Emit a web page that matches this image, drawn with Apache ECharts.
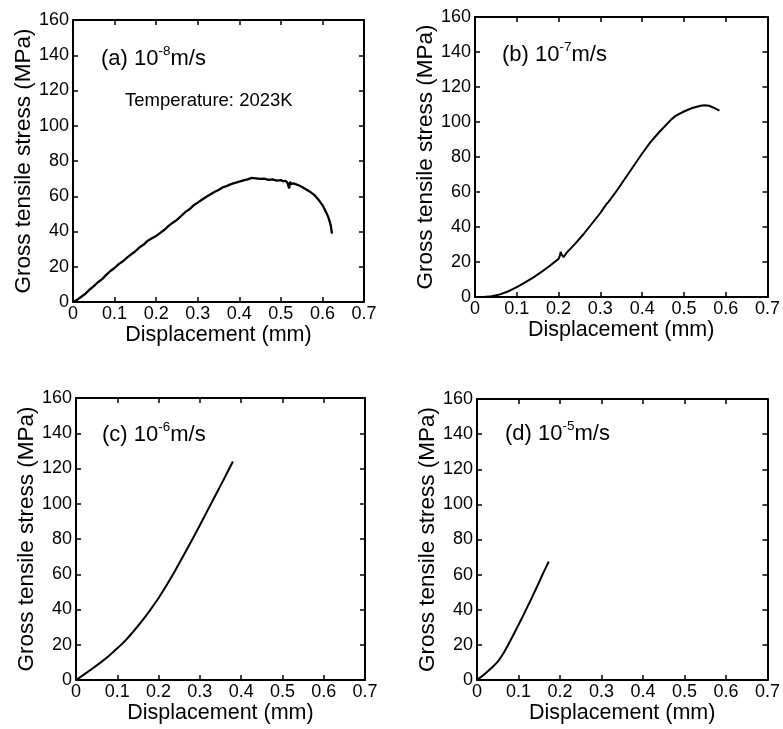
<!DOCTYPE html>
<html>
<head>
<meta charset="utf-8">
<script src="https://cdn.jsdelivr.net/npm/echarts@6/dist/echarts.min.js"></script>
<style>html,body{margin:0;padding:0;background:#fff}#c{width:783px;height:729px}</style>
</head>
<body>
<div id="c"></div>
<script>
// ---- data ----
const xTicks = [0, 0.1, 0.2, 0.3, 0.4, 0.5, 0.6, 0.7];
const yTicks = [0, 20, 40, 60, 80, 100, 120, 140, 160];

// (a) 10^-8 m/s
const aX = [0,0.01,0.02,0.03,0.04,0.05,0.06,0.07,0.08,0.09,0.10,0.11,0.12,0.13,0.14,0.15,0.16,0.17,0.18,0.19,0.20,0.21,0.22,0.23,0.24,0.25,0.26,0.27,0.28,0.29,0.30,0.31,0.32,0.33,0.34,0.35,0.36,0.37,0.38,0.39,0.40,0.41,0.42,0.43,0.44,0.45,0.46,0.47,0.48,0.49,0.50,0.505,0.51,0.515,0.52,0.522,0.525,0.53,0.54,0.55,0.56,0.57,0.58,0.59,0.60,0.605,0.61,0.615,0.62,0.623];
const aY = [0,1.2,3.0,4.8,7.0,9.0,11.2,13.0,15.4,17.6,19.3,21.5,23.1,25.2,27.0,28.8,31.0,32.6,34.8,36.2,37.5,39.2,41.0,43.2,45.0,46.6,48.8,51.0,52.6,54.8,56.4,58.0,59.6,61.0,62.4,63.6,65.0,65.8,66.9,67.6,68.3,69.0,69.6,70.4,70.1,69.8,70.0,69.3,69.6,68.9,69.2,68.5,68.8,68.0,64.5,68.2,66.8,67.3,66.5,65.4,64.0,62.6,60.8,58.2,55.0,52.8,50.4,47.6,43.5,38.8];

// (b) 10^-7 m/s
const bX = [0,0.02,0.04,0.06,0.08,0.10,0.12,0.14,0.16,0.18,0.20,0.203,0.205,0.208,0.212,0.22,0.24,0.26,0.28,0.30,0.31,0.315,0.32,0.34,0.36,0.38,0.40,0.42,0.44,0.46,0.47,0.48,0.50,0.52,0.54,0.55,0.56,0.57,0.585];
const bY = [0,0,0.4,1.5,3.3,5.6,8.3,11.2,14.5,18.0,21.8,23.5,25.8,24.0,22.8,25.5,30.5,36.0,42.0,48.0,51.5,53.2,54.5,61.0,68.0,75.0,82.0,88.5,94.0,99.0,101.5,103.5,106.0,108.0,109.3,109.6,109.3,108.3,106.5];

// (c) 10^-6 m/s
const cX = [0,0.02,0.04,0.06,0.08,0.10,0.12,0.14,0.16,0.18,0.20,0.22,0.24,0.26,0.28,0.30,0.32,0.34,0.36,0.38];
const cY = [0,3.2,6.5,10.0,13.8,18.0,22.5,27.8,33.5,39.8,46.5,54.0,62.0,70.5,79.0,87.8,96.8,105.8,114.8,124.0];

// (d) 10^-5 m/s
const dX = [0,0.01,0.02,0.03,0.04,0.05,0.06,0.07,0.08,0.09,0.10,0.11,0.12,0.13,0.14,0.15,0.16,0.173];
const dY = [0,1.8,3.7,5.8,8.0,10.5,13.8,17.8,22.2,26.8,31.4,36.1,40.9,45.8,50.8,55.9,61.1,67.5];

const panels = [
  {x: aX, y: aY, label: '(a) ', exp: '-8'},
  {x: bX, y: bY, label: '(b) ', exp: '-7'},
  {x: cX, y: cY, label: '(c) ', exp: '-6'},
  {x: dX, y: dY, label: '(d) ', exp: '-5'}
];

// ---- layout ----
const FONT = '"Liberation Sans", Arial, Helvetica, sans-serif';
const grids = [
  {left: 73, top: 20, width: 291, height: 282},
  {left: 475, top: 17, width: 296, height: 280},
  {left: 76, top: 398, width: 289, height: 282},
  {left: 477, top: 399, width: 292, height: 281}
];
const labelPos = [[101, 57], [502, 53], [102, 433], [505, 432]];

const lineStyle = {color: '#000', width: 2};
const tickStyle = {inside: true, length: 5, lineStyle: {color: '#000', width: 1.5}};
const fmtX = v => (Math.abs(v) < 1e-9 ? '0' : v.toFixed(1));

const xAxis = [], yAxis = [], series = [], graphic = [];
grids.forEach((g, i) => {
  const base = {gridIndex: i, type: 'value', splitLine: {show: false}};
  xAxis.push(Object.assign({}, base, {
    min: xTicks[0], max: xTicks[xTicks.length - 1], interval: 0.1, position: 'bottom',
    name: 'Displacement (mm)', nameLocation: 'middle', nameGap: 18,
    nameTextStyle: {color: '#000', fontSize: 21.5, fontFamily: FONT},
    axisLine: {show: true, onZero: false, lineStyle},
    axisTick: tickStyle,
    axisLabel: {color: '#000', fontSize: 18, fontFamily: FONT, margin: 3, formatter: fmtX}
  }));
  xAxis.push(Object.assign({}, base, {
    min: xTicks[0], max: xTicks[xTicks.length - 1], interval: 0.1, position: 'top',
    axisLine: {show: true, onZero: false, lineStyle},
    axisTick: tickStyle, axisLabel: {show: false}
  }));
  yAxis.push(Object.assign({}, base, {
    min: yTicks[0], max: yTicks[yTicks.length - 1], interval: 20, position: 'left',
    name: 'Gross tensile stress (MPa)', nameLocation: 'middle', nameGap: 38,
    nameTextStyle: {color: '#000', fontSize: 22.5, fontFamily: FONT},
    axisLine: {show: true, onZero: false, lineStyle},
    axisTick: tickStyle,
    axisLabel: {color: '#000', fontSize: 18, fontFamily: FONT, margin: 4}
  }));
  yAxis.push(Object.assign({}, base, {
    min: yTicks[0], max: yTicks[yTicks.length - 1], interval: 20, position: 'right',
    axisLine: {show: true, onZero: false, lineStyle},
    axisTick: tickStyle, axisLabel: {show: false}
  }));
  const p = panels[i];
  series.push({
    type: 'line', xAxisIndex: 2 * i, yAxisIndex: 2 * i,
    data: p.x.map((x, k) => [x, p.y[k]]),
    showSymbol: false, symbol: 'none', smooth: i >= 2 ? 0.2 : false,
    lineStyle: {color: '#000', width: i === 0 ? 2.3 : 2}, silent: true, animation: false
  });
  graphic.push({
    type: 'text', left: labelPos[i][0], top: labelPos[i][1] - 13,
    style: {
      text: '{n|' + p.label + '10}{s|' + p.exp + '}{n|m/s}',
      rich: {
        n: {fontSize: 22, fontFamily: FONT, fill: '#000', lineHeight: 26, verticalAlign: 'bottom'},
        s: {fontSize: 13.5, fontFamily: FONT, fill: '#000', lineHeight: 26, verticalAlign: 'top'}
      }
    }
  });
});
graphic.push({
  type: 'text', left: 125, top: 91,
  style: {text: 'Temperature: 2023K', fontSize: 18.5, fontFamily: FONT, fill: '#000'}
});

const chart = echarts.init(document.getElementById('c'), null, {renderer: 'canvas'});
chart.setOption({
  backgroundColor: '#fff',
  animation: false,
  grid: grids.map(g => Object.assign({containLabel: false}, g)),
  xAxis, yAxis, series, graphic
});
</script>
</body>
</html>
